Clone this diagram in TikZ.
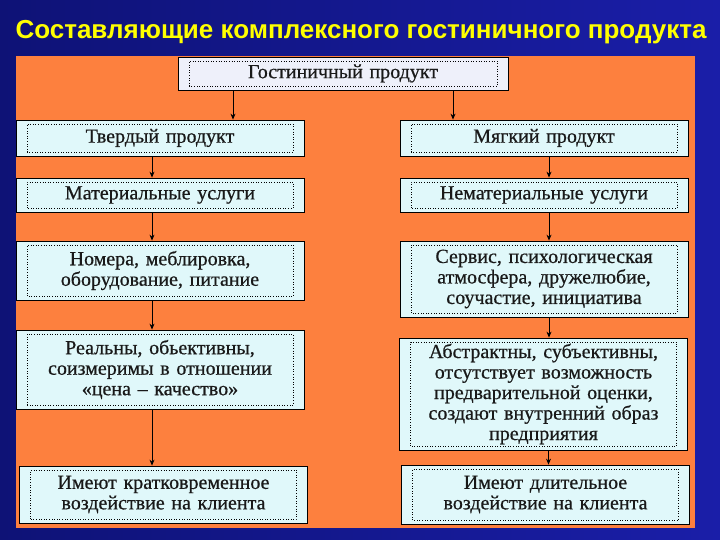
\documentclass[tikz,border=0pt]{standalone}
\usepackage{fontspec}
\setmainfont{Liberation Serif}[FakeBold=0.6]
\newfontfamily\titlefont{Liberation Sans}
\usetikzlibrary{arrows.meta}

\definecolor{bgleft}{RGB}{14,18,118}
\definecolor{bgright}{RGB}{26,30,168}
\definecolor{panel}{RGB}{253,128,62}
\definecolor{cardfill}{RGB}{224,248,250}
\definecolor{topfill}{RGB}{238,240,250}
\definecolor{titleyellow}{RGB}{255,255,0}

\tikzset{
  card/.style={draw=black, fill=cardfill, line width=0.8pt, inner xsep=9pt, inner ysep=2pt,
    text width=270pt, align=center, text=black!90,
    font=\fontsize{20}{20.5}\selectfont,
    path picture={\draw[dotted, line width=0.6pt]
      ([xshift=11pt,yshift=4pt]path picture bounding box.south west) rectangle
      ([xshift=-11pt,yshift=-4pt]path picture bounding box.north east);}},
  arr/.style={-{Stealth[length=6pt,width=5pt]}, line width=0.8pt, black}
}

\begin{document}
\begin{tikzpicture}[x=1pt,y=-1pt]
  \useasboundingbox (0,0) rectangle (720,540);

  % fondo
  \shade[left color=bgleft, right color=bgright] (0,0) rectangle (720,540);
  \fill[panel] (16,56) rectangle (695,528);

  % titulo
  \node[font=\titlefont\bfseries\fontsize{26}{28}\selectfont, text=titleyellow] (title) at (361,32)
    {Составляющие комплексного гостиничного продукта};

  % producto
  \node[card, fill=topfill, text width=312pt, minimum height=33pt] (hotel) at (343,73.5) {Гостиничный продукт};

  % columna izquierda
  \node[card, minimum height=36pt] (hard) at (160,138) {Твердый продукт};
  \node[card, minimum height=34pt] (mat) at (160,195) {Материальные услуги};
  \node[card, minimum height=59pt] (rooms) at (160,270.5) {Номера, меблировка,\\ оборудование, питание};
  \node[card, minimum height=79pt] (real) at (160,369.5) {Реальны, обьективны,\\ соизмеримы в отношении\\ «цена – качество»};
  \node[card, minimum height=57pt] (short) at (163.5,494.5) {Имеют кратковременное\\ воздействие на клиента};

  % columna derecha
  \node[card, minimum height=36pt] (soft) at (544,138) {Мягкий продукт};
  \node[card, minimum height=34pt] (nonmat) at (544,195) {Нематериальные услуги};
  \node[card, minimum height=76pt] (service) at (544,279) {Сервис, психологическая\\ атмосфера, дружелюбие,\\ соучастие, инициатива};
  \node[card, minimum height=112pt] (abstr) at (543.5,394) {Абстрактны, субъективны,\\ отсутствует возможность\\ предварительной оценки,\\ создают внутренний образ\\ предприятия};
  \node[card, minimum height=59pt] (long) at (545.5,494.5) {Имеют длительное\\ воздействие на клиента};

  % flechas
  \draw[arr] ([xshift=-110pt]hotel.south) -- ([xshift=-110pt]hotel.south |- hard.north);
  \draw[arr] ([xshift=110pt]hotel.south) -- ([xshift=110pt]hotel.south |- soft.north);

  \draw[arr] ([xshift=-8pt]hard.south) -- ([xshift=-8pt]hard.south |- mat.north);
  \draw[arr] ([xshift=-8pt]mat.south) -- ([xshift=-8pt]mat.south |- rooms.north);
  \draw[arr] ([xshift=-8pt]rooms.south) -- ([xshift=-8pt]rooms.south |- real.north);
  \draw[arr] ([xshift=-8pt]real.south) -- ([xshift=-8pt]real.south |- short.north);

  \draw[arr] ([xshift=5pt]soft.south) -- ([xshift=5pt]soft.south |- nonmat.north);
  \draw[arr] ([xshift=5pt]nonmat.south) -- ([xshift=5pt]nonmat.south |- service.north);
  \draw[arr] ([xshift=5pt]service.south) -- ([xshift=5pt]service.south |- abstr.north);
  \draw[arr] ([xshift=5pt]abstr.south) -- ([xshift=5pt]abstr.south |- long.north);
\end{tikzpicture}
\end{document}
